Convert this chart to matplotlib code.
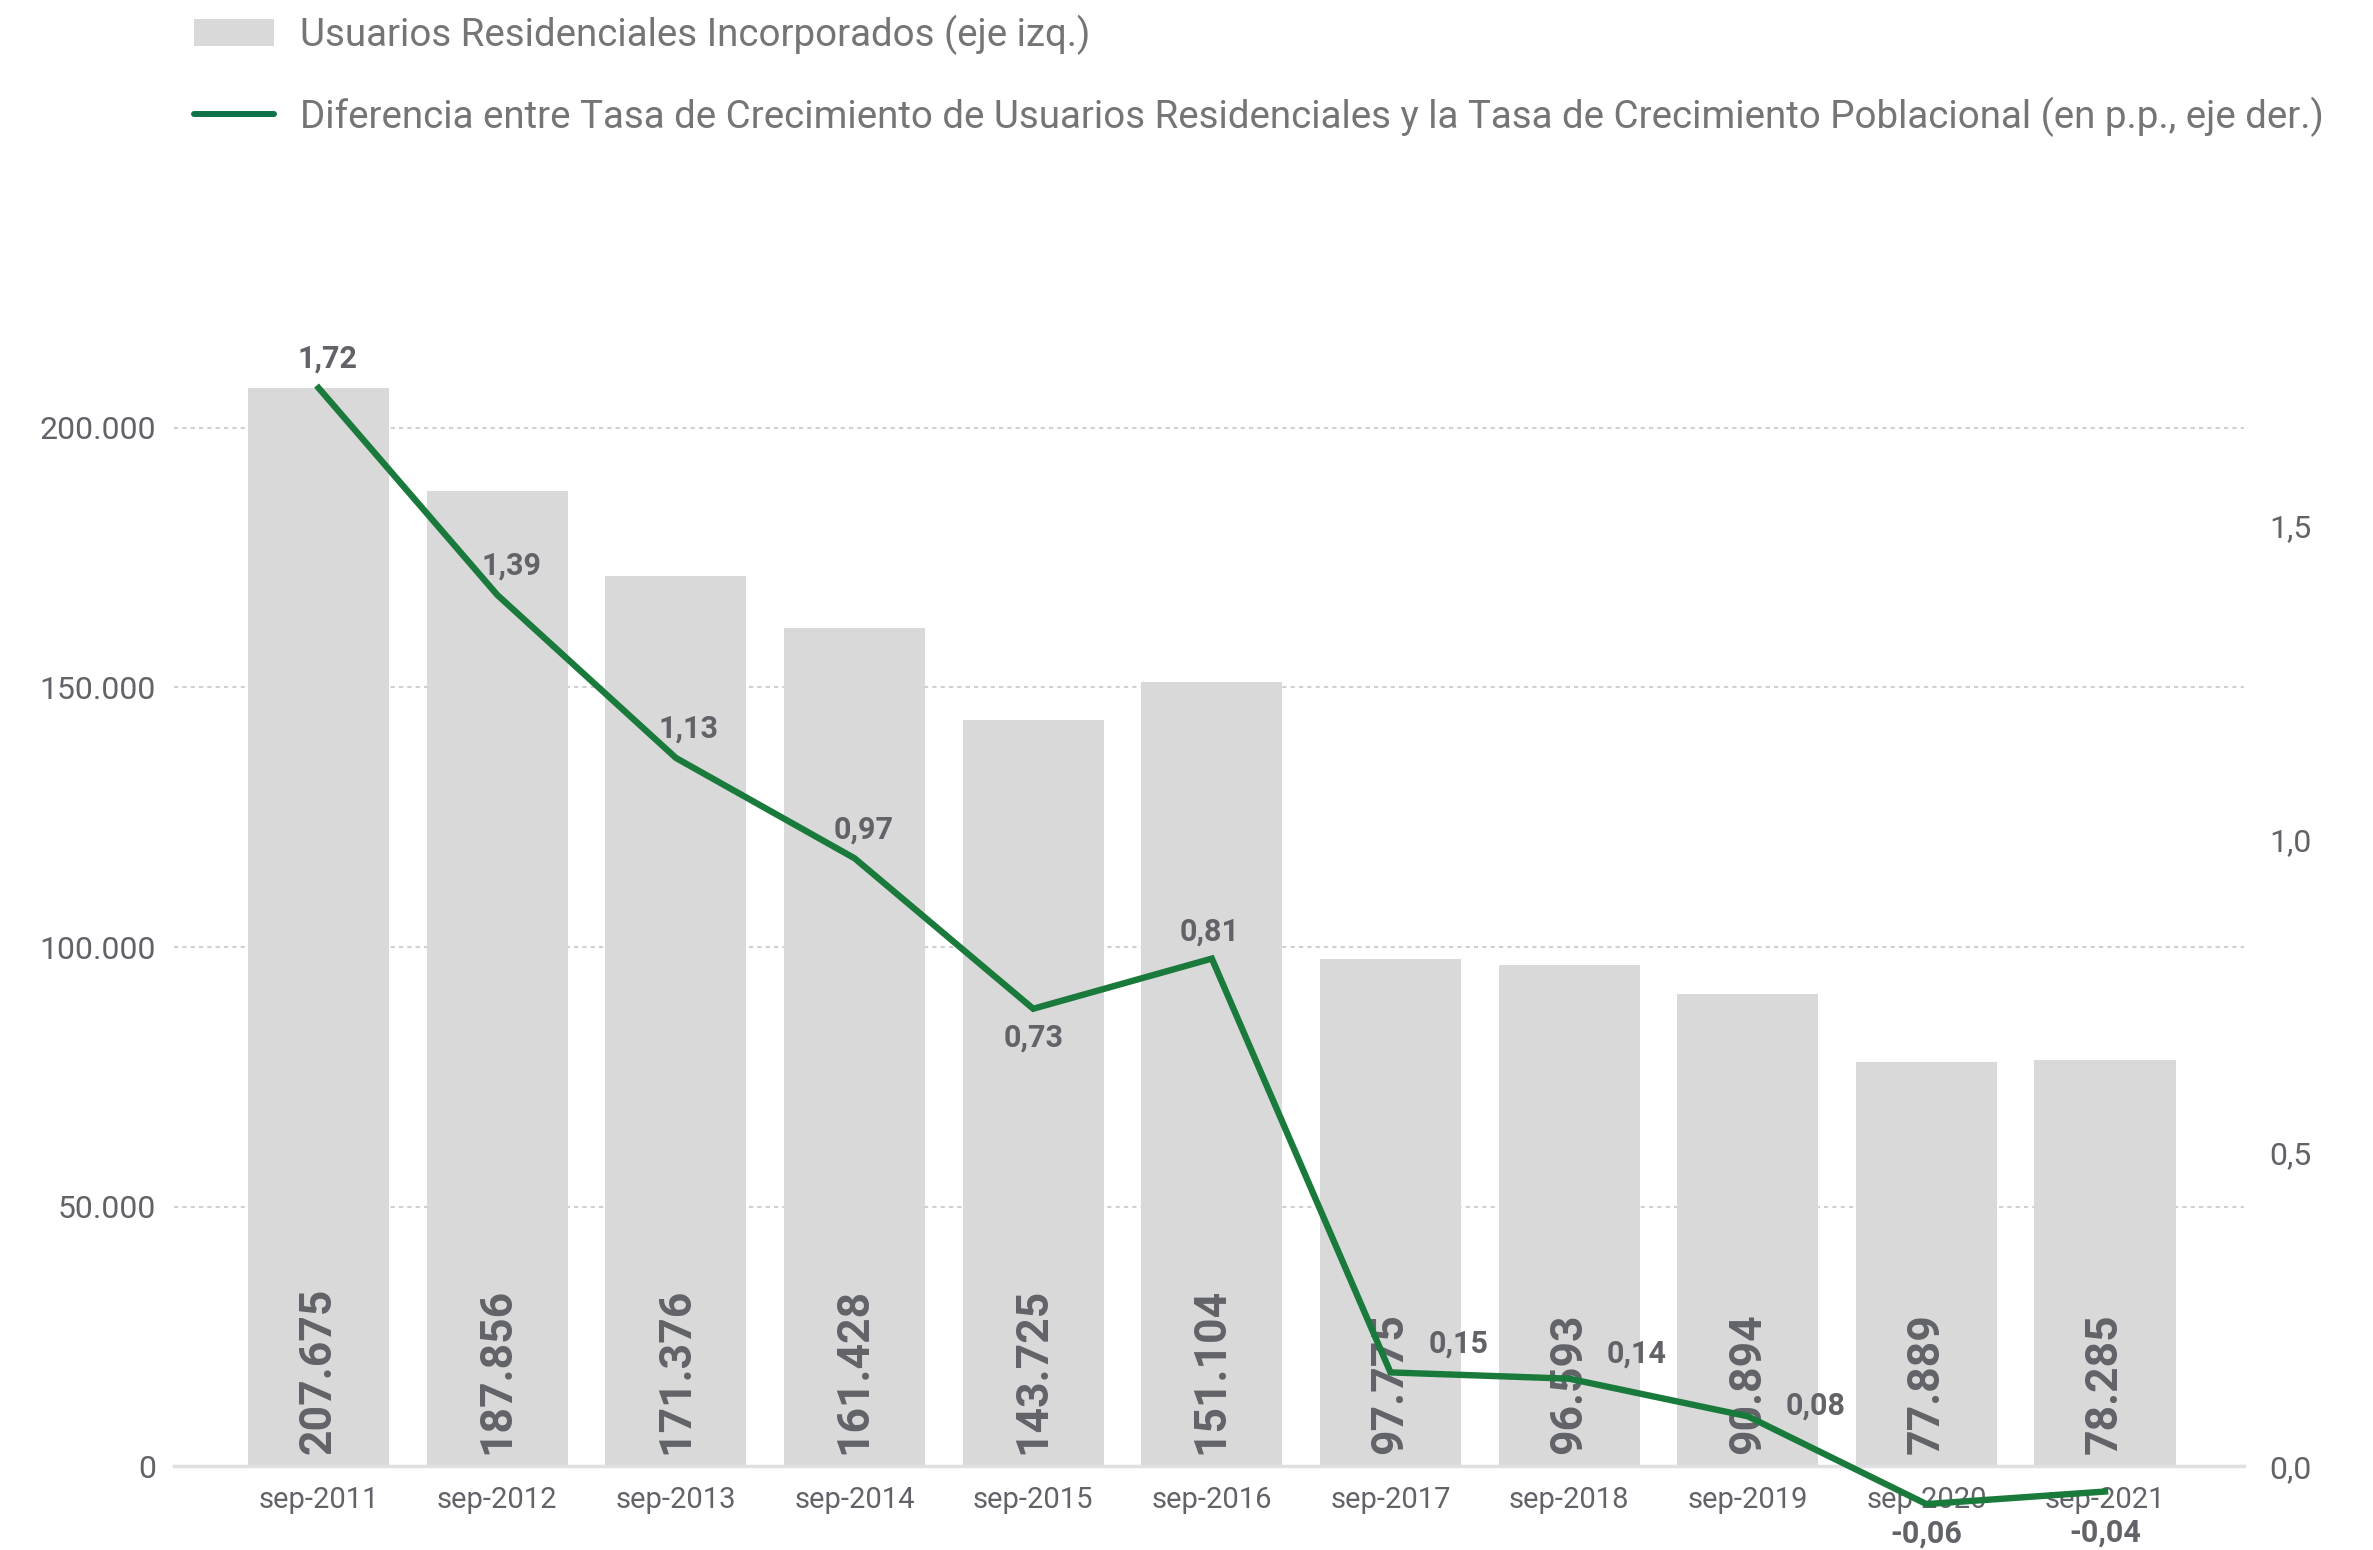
import matplotlib
matplotlib.use("Agg")
import matplotlib.pyplot as plt
from matplotlib.ticker import FuncFormatter, FixedLocator
from matplotlib.patches import Patch
from matplotlib.lines import Line2D

plt.rcParams['font.family'] = ['Roboto', 'DejaVu Sans']

categories = ["sep-2011", "sep-2012", "sep-2013", "sep-2014", "sep-2015", "sep-2016",
              "sep-2017", "sep-2018", "sep-2019", "sep-2020", "sep-2021"]
usuarios = [207675, 187856, 171376, 161428, 143725, 151104, 97775, 96593, 90894, 77889, 78285]
diferencia = [1.72, 1.39, 1.13, 0.97, 0.73, 0.81, 0.15, 0.14, 0.08, -0.06, -0.04]
left_ticks = [0, 50000, 100000, 150000, 200000]
right_ticks = [0.0, 0.5, 1.0, 1.5]
legend_labels = ["Usuarios Residenciales Incorporados (eje izq.)",
                 "Diferencia entre Tasa de Crecimiento de Usuarios Residenciales y la Tasa de Crecimiento Poblacional (en p.p., eje der.)"]

# label placement styles (pixel offsets, alignment) for the line's data labels
label_style = [((9, 14), "center", "bottom"), ((14, 14), "center", "bottom"),
               ((13, 14), "center", "bottom"), ((9, 14), "center", "bottom"),
               ((0, -14), "center", "top"), ((-2, 12), "center", "bottom"),
               ((38, 14), "left", "bottom"), ((38, 10), "left", "bottom"),
               ((38, -4), "left", "bottom"), ((0, -14), "center", "top"),
               ((0, -26), "center", "top")]

BAR = "#d9d9d9"
LINE = "#1a7a3c"
TXT = "#616368"
LEG = "#757575"

fig = plt.figure(figsize=(23.73, 15.5), dpi=100)
ax = fig.add_axes([0.0733, 0.0539, 0.8725, 0.7506])
ax2 = ax.twinx()

x = list(range(len(categories)))
L_top = 224000
R_top = L_top * (687 / 200000) / (622 / 1.5)
ax.set_ylim(0, L_top)
ax2.set_ylim(0, R_top)
ax.set_xlim(-0.81, 10.78)

ax.bar(x, usuarios, width=0.79, color=BAR, zorder=2)
for xi, v in zip(x, usuarios):
    s = f"{v:,}".replace(",", ".")
    ax.annotate(s, (xi, 0), xytext=(0, 12), textcoords="offset pixels",
                rotation=90, ha="center", va="bottom", fontsize=32,
                fontweight="bold", color=TXT, zorder=3)

ax.set_yticks(left_ticks)
ax.yaxis.set_major_formatter(FuncFormatter(lambda v, p: f"{int(v):,}".replace(",", ".")))
ax.grid(axis="y", color="#d0d0d0", linestyle=(0, (2, 2)), linewidth=1.5, zorder=0)
ax.set_axisbelow(True)
ax.set_xticks(x)
ax.set_xticklabels(categories)
ax.tick_params(axis="x", length=0, pad=14, labelsize=21, labelcolor=TXT)
ax.tick_params(axis="y", length=0, pad=13, labelsize=23, labelcolor=TXT)
for sp in ["top", "left", "right"]:
    ax.spines[sp].set_visible(False)
    ax2.spines[sp].set_visible(False)
ax.spines["bottom"].set_color("#e0e0e0")
ax.spines["bottom"].set_linewidth(2.5)
ax2.spines["bottom"].set_visible(False)

ax2.plot(x, diferencia, color=LINE, linewidth=4.6, clip_on=False, zorder=5,
         solid_joinstyle="miter")
ax2.yaxis.set_major_locator(FixedLocator(right_ticks))
ax2.yaxis.set_major_formatter(FuncFormatter(lambda v, p: f"{v:.1f}".replace(".", ",")))
ax2.tick_params(axis="y", length=0, pad=18, labelsize=23, labelcolor=TXT)

for xi, v, (off, ha, va) in zip(x, diferencia, label_style):
    s = f"{v:.2f}".replace(".", ",")
    ax2.annotate(s, (xi, v), xytext=off, textcoords="offset pixels",
                 ha=ha, va=va, fontsize=22, fontweight="bold", color=TXT,
                 zorder=6, annotation_clip=False)

handles = [Patch(facecolor=BAR, edgecolor="none"),
           Line2D([0], [0], color="#0e7348", linewidth=4.3, solid_capstyle="round")]
leg = fig.legend(handles, legend_labels, loc="upper left", bbox_to_anchor=(0.067, 1.013),
                 frameon=False, fontsize=27.7, handlelength=2.08, handleheight=0.68,
                 handletextpad=0.69, labelspacing=1.08)
for t in leg.get_texts():
    t.set_color(LEG)

fig.savefig("out.png", dpi=100)
